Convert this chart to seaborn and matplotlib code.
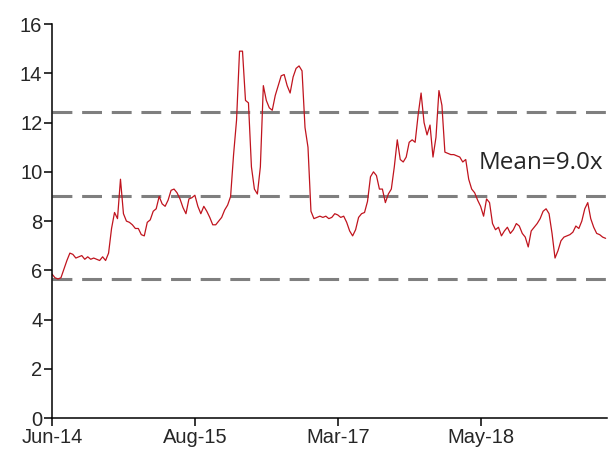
import numpy as np
import pandas as pd
import matplotlib
matplotlib.use("Agg")
import matplotlib.pyplot as plt
import seaborn as sns

pe_values = [
    5.85, 5.7, 5.65, 5.7, 6.05, 6.4, 6.7, 6.65, 6.5, 6.55,
    6.6, 6.45, 6.55, 6.45, 6.5, 6.45, 6.4, 6.55, 6.4, 6.7,
    7.7, 8.35, 8.1, 9.7, 8.3, 8.0, 7.95, 7.85, 7.7, 7.7,
    7.45, 7.4, 7.95, 8.05, 8.4, 8.5, 9.0, 8.7, 8.6, 8.85,
    9.25, 9.3, 9.15, 8.9, 8.55, 8.3, 8.9, 8.95, 9.05, 8.6,
    8.3, 8.6, 8.4, 8.15, 7.85, 7.85, 8.0, 8.15, 8.45, 8.65,
    9.0, 10.7, 12.1, 14.9, 14.9, 12.9, 12.8, 10.2, 9.3, 9.1,
    10.2, 13.5, 12.9, 12.6, 12.5, 13.1, 13.5, 13.9, 13.95, 13.5,
    13.2, 13.85, 14.2, 14.3, 14.1, 11.8, 11.0, 8.4, 8.1, 8.15,
    8.2, 8.15, 8.2, 8.1, 8.15, 8.3, 8.25, 8.15, 8.2, 7.95,
    7.6, 7.4, 7.65, 8.15, 8.3, 8.35, 8.8, 9.8, 10.0, 9.85,
    9.3, 9.3, 8.75, 9.1, 9.3, 10.2, 11.3, 10.5, 10.4, 10.6,
    11.2, 11.3, 11.2, 12.3, 13.2, 12.0, 11.5, 11.9, 10.6, 11.4,
    13.3, 12.7, 10.8, 10.75, 10.7, 10.7, 10.65, 10.6, 10.4, 10.5,
    9.7, 9.3, 9.15, 8.85, 8.6, 8.2, 8.9, 8.75, 7.9, 7.65,
    7.75, 7.4, 7.6, 7.75, 7.5, 7.65, 7.9, 7.8, 7.5, 7.35,
    6.95, 7.6, 7.75, 7.9, 8.1, 8.4, 8.5, 8.3, 7.5, 6.5,
    6.8, 7.2, 7.35, 7.4, 7.45, 7.55, 7.8, 7.7, 8.0, 8.5,
    8.75, 8.1, 7.75, 7.5, 7.45, 7.35, 7.3,
]
tick_positions = [0, 48, 96, 144]
tick_labels = ["Jun-14", "Aug-15", "Mar-17", "May-18"]
mean_value = 9.03
band_values = [12.43, 9.03, 5.63]  # mean +/- 1 sd
mean_label = "Mean=9.0x"

df = pd.DataFrame({"obs": np.arange(len(pe_values)), "pe": pe_values})

sns.set_style("ticks")
plt.rcParams["font.family"] = ["Liberation Sans", "DejaVu Sans"]

fig = plt.figure(figsize=(6.12, 4.54), dpi=100)
ax = fig.add_axes([0.085, 0.079, 0.907, 0.868])

# dashed mean / sd bands
for v in band_values:
    ax.axhline(v, color="#7f7f7f", linewidth=2.2, dashes=(6.5, 3.2), zorder=1)

sns.lineplot(data=df, x="obs", y="pe", color="#c0141e", linewidth=0.9, ax=ax, zorder=2)

ax.text(143.5, 10.35, mean_label, fontsize=17.5, color="#262626",
        family=["Open Sans", "DejaVu Sans"], va="center", ha="left")

ax.set_xlim(0, 186.5)
ax.set_ylim(0, 16)
ax.set_yticks(range(0, 17, 2))
ax.set_xticks(tick_positions)
ax.set_xticklabels(tick_labels)
ax.set_xlabel("")
ax.set_ylabel("")

for side in ["top", "right"]:
    ax.spines[side].set_visible(False)
for side in ["left", "bottom"]:
    ax.spines[side].set_linewidth(1.1)
    ax.spines[side].set_color("black")

ax.tick_params(axis="both", labelsize=14.5, colors="black", length=6, width=1.1,
               direction="out", pad=1)
for lbl in ax.get_xticklabels() + ax.get_yticklabels():
    lbl.set_color("#262626")

fig.savefig("out.png", dpi=100)
